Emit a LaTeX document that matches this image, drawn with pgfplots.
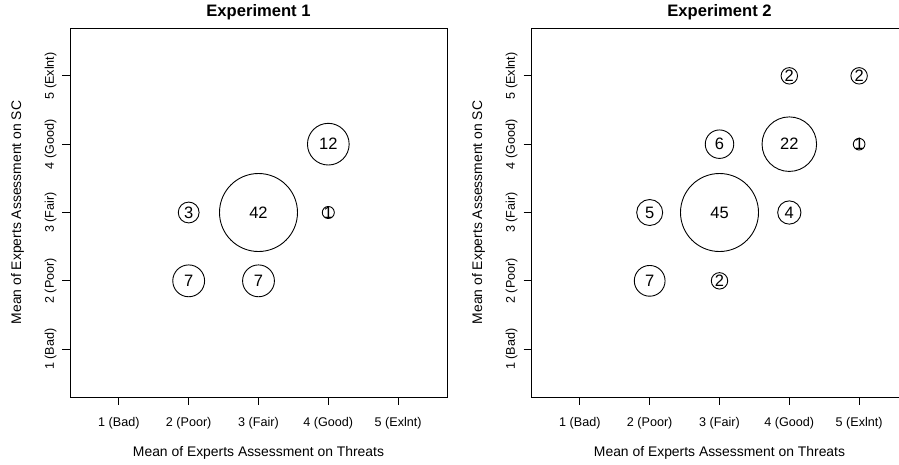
\documentclass[border=0pt]{standalone}
\usepackage{pgfplots}
\pgfplotsset{compat=1.18}
\usepackage{pgfplotstable}
\usepackage{fontspec}
\setmainfont{Liberation Sans}

\pgfplotstableread{
x y n
2 3 3
3 3 42
4 3 1
4 4 12
2 2 7
3 2 7
}\expone

\pgfplotstableread{
x y n
4 5 2
5 5 2
3 4 6
4 4 22
5 4 1
2 3 5
3 3 45
4 3 4
2 2 7
3 2 2
}\exptwo

\pgfplotsset{
  bubbleaxis/.style={
    scale only axis, width=377pt, height=369pt,
    xmin=0.3, xmax=5.7, ymin=0.3, ymax=5.7,
    axis line style={line width=0.9pt},
    tick style={line width=0.9pt, black},
    tick align=outside, major tick length=7.5pt,
    xtick pos=bottom, ytick pos=left,
    xtick={1,2,3,4,5}, ytick={1,2,3,4,5},
    xticklabels={1 (Bad),2 (Poor),3 (Fair),4 (Good),5 (Exlnt)},
    yticklabels={1 (Bad),2 (Poor),3 (Fair),4 (Good),5 (Exlnt)},
    ticklabel style={font=\fontsize{12.6}{14}\selectfont},
    xticklabel style={anchor=base, yshift=-22pt},
    yticklabel style={xshift=-8.7pt, rotate=90, anchor=base},
    xlabel={Mean of Experts Assessment on Threats},
    ylabel={Mean of Experts Assessment on SC},
    every axis x label/.style={at={(axis description cs:0.5,0)}, anchor=base, yshift=-59pt, font=\fontsize{13.9}{16}\selectfont},
    every axis y label/.style={at={(axis description cs:0,0.5)}, xshift=-48.8pt, rotate=90, anchor=base, font=\fontsize{13.9}{16}\selectfont},
    every axis title/.style={at={(axis description cs:0.5,1)}, anchor=base, yshift=12pt, font=\fontsize{16.6}{19}\selectfont\bfseries},
    clip=false,
  },
  circles/.style={
    scatter, only marks, mark=o,
    scatter src=explicit,
    scatter/use mapped color={draw=black, fill=none},
    mark options={line width=0.9pt},
    visualization depends on={39*sqrt(\thisrow{n}/#1) \as \rad},
    scatter/@pre marker code/.append style={/tikz/mark size=\rad},
  },
  counts/.style={
    only marks, mark=none,
    point meta=explicit symbolic,
    nodes near coords,
    every node near coord/.append style={anchor=center, text=black, inner sep=0pt, font=\fontsize{16.5}{18}\selectfont},
  },
}

\begin{document}
\begin{tikzpicture}
\begin{axis}[bubbleaxis, at={(70pt,67pt)}, anchor=south west, title={Experiment 1}]
\addplot[circles=42] table[x=x, y=y, meta=n] {\expone};
\addplot[counts] table[x=x, y=y, meta=n] {\expone};
\end{axis}
\begin{axis}[bubbleaxis, at={(531pt,67pt)}, anchor=south west, title={Experiment 2}]
\addplot[circles=45] table[x=x, y=y, meta=n] {\exptwo};
\addplot[counts] table[x=x, y=y, meta=n] {\exptwo};
\end{axis}
\pgfresetboundingbox
\useasboundingbox (0pt,0pt) rectangle (899pt,464pt);
\end{tikzpicture}
\end{document}
